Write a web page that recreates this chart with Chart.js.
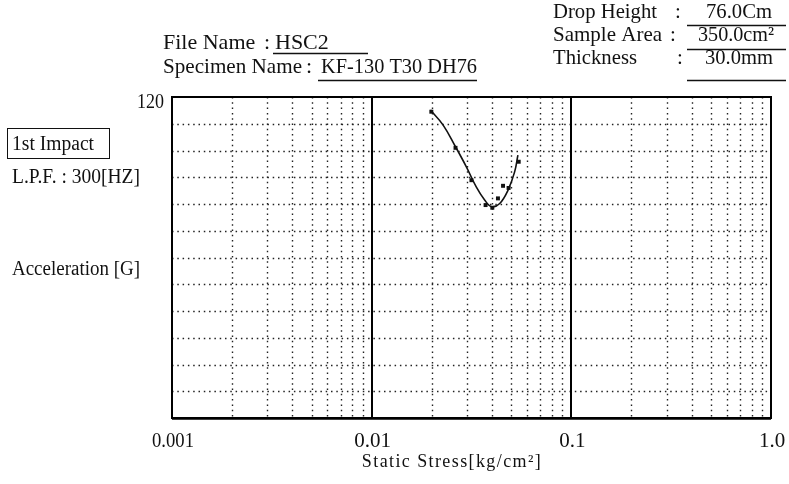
<!DOCTYPE html>
<html>
<head>
<meta charset="utf-8">
<script src="https://cdn.jsdelivr.net/npm/chart.js@4/dist/chart.umd.min.js"></script>
<style>
  body { margin: 0; background: #fff; }
  #wrap { width: 789px; height: 484px; }
</style>
</head>
<body>
<div id="wrap"><canvas id="impact" width="789" height="484"></canvas></div>
<script>
// measured points, static stress (kg/cm2) vs peak acceleration (G)
const stress = [0.0199, 0.0263, 0.0316, 0.0372, 0.0402, 0.0429, 0.0455, 0.0485, 0.0545]
const accel = [114.5, 101.0, 88.9, 79.6, 78.6, 82.1, 86.8, 86.0, 95.8]

// fitted cushion curve
const fitStress = [0.0197, 0.0228, 0.0263, 0.0298, 0.0334, 0.0368, 0.0398, 0.0438, 0.0482, 0.0520, 0.0540]
const fitAccel = [115.1, 109.5, 101.4, 93.9, 86.4, 81.5, 79.0, 80.2, 85.2, 92.0, 98.3]

// axes
const xTicks = [0.001, 0.01, 0.1, 1]
const xTickLabels = ['0.001', '0.01', '0.1', '1.0']
const yMin = 0, yMax = 120, yStep = 10

const toXY = (xs, ys) => xs.map((v, i) => ({x: v, y: ys[i]}))

const txt = (ctx, s, x, y, size, align, maxW) => {
    ctx.font = size + 'px "Liberation Serif", "DejaVu Serif", serif'
    ctx.textAlign = align || 'left'
    ctx.textBaseline = 'alphabetic'
    if (maxW) ctx.fillText(s, x, y, maxW)
    else ctx.fillText(s, x, y)
}

const uline = (ctx, x1, x2, y) => {
    ctx.beginPath()
    ctx.moveTo(x1, y)
    ctx.lineTo(x2, y)
    ctx.stroke()
}

const paper = {
    id: 'paper',
    beforeDraw(chart) {
        const ctx = chart.ctx
        ctx.save()
        ctx.fillStyle = '#fff'
        ctx.fillRect(0, 0, chart.width, chart.height)
        ctx.restore()
    },
    beforeDatasetsDraw(chart) {
        const {ctx, chartArea: a, scales: {x, y}} = chart
        ctx.save()
        ctx.strokeStyle = '#222'
        ctx.lineWidth = 1.4
        ctx.setLineDash([1.5, 3.8])
        // minor log lines 2..9 of each decade
        for (let d = 0; d < xTicks.length - 1; d++) {
            for (let m = 2; m <= 9; m++) {
                const px = Math.round(x.getPixelForValue(xTicks[d] * m)) + 0.5
                ctx.beginPath()
                ctx.moveTo(px, a.top)
                ctx.lineTo(px, a.bottom)
                ctx.stroke()
            }
        }
        for (let v = yMin + yStep; v < yMax; v += yStep) {
            const py = Math.round(y.getPixelForValue(v)) + 0.5
            ctx.beginPath()
            ctx.moveTo(a.left, py)
            ctx.lineTo(a.right, py)
            ctx.stroke()
        }
        ctx.setLineDash([])
        // decade lines
        ctx.strokeStyle = '#000'
        ctx.lineWidth = 2
        xTicks.slice(1, -1).forEach(v => {
            const px = Math.round(x.getPixelForValue(v))
            ctx.beginPath()
            ctx.moveTo(px, a.top)
            ctx.lineTo(px, a.bottom)
            ctx.stroke()
        })
        ctx.strokeRect(a.left, a.top, a.right - a.left, a.bottom - a.top)
        ctx.lineWidth = 2.5
        uline(ctx, a.left, a.right, a.bottom + 0.5)
        ctx.restore()
    },
    afterDraw(chart) {
        const {ctx, chartArea: a, scales: {x, y}} = chart
        ctx.save()
        ctx.fillStyle = '#111'
        ctx.strokeStyle = '#111'
        ctx.lineWidth = 1.3

        // header
        txt(ctx, 'File Name', 163, 49, 22, 'left', 94)
        txt(ctx, ':', 264, 49, 22)
        txt(ctx, 'HSC2', 275, 49, 22, 'left', 54)
        uline(ctx, 273, 368, 53.5)
        txt(ctx, 'Specimen Name', 163, 73, 22, 'left', 139)
        txt(ctx, ':', 306, 73, 22)
        txt(ctx, 'KF-130 T30 DH76', 321, 73, 22, 'left', 156)
        uline(ctx, 318, 477, 80.5)

        txt(ctx, 'Drop Height', 553, 18, 21, 'left', 104)
        txt(ctx, ':', 675, 18, 21)
        txt(ctx, '76.0Cm', 706, 18, 21, 'left', 66)
        uline(ctx, 687, 786, 25.5)
        txt(ctx, 'Sample Area', 553, 41, 21, 'left', 110)
        txt(ctx, ':', 670, 41, 21)
        txt(ctx, '350.0cm²', 698, 41, 21, 'left', 76)
        uline(ctx, 687, 786, 49.5)
        txt(ctx, 'Thickness', 553, 64, 21, 'left', 84)
        txt(ctx, ':', 677, 64, 21)
        txt(ctx, '30.0mm', 705, 64, 21, 'left', 68)
        uline(ctx, 687, 786, 80.5)

        // left notes
        ctx.lineWidth = 1
        ctx.strokeRect(7.5, 128.5, 102, 30)
        txt(ctx, '1st Impact', 12, 150, 20, 'left', 82)
        txt(ctx, 'L.P.F. : 300[HZ]', 12, 183, 20, 'left', 128)
        txt(ctx, 'Acceleration [G]', 12, 275, 20, 'left', 128)

        // axis labels
        txt(ctx, String(yMax), a.left - 8, y.getPixelForValue(yMax) + 11, 20, 'right', 27)
        xTicks.forEach((v, i) => {
            txt(ctx, xTickLabels[i], x.getPixelForValue(v) + 1, 447, 21, 'center', 42)
        })
        ctx.letterSpacing = '1.4px'
        txt(ctx, 'Static Stress[kg/cm²]', 452, 467, 18, 'center')
        ctx.restore()
    }
}

new Chart(document.getElementById('impact'), {
    type: 'scatter',
    data: {
        datasets: [{
            data: toXY(fitStress, fitAccel),
            showLine: true,
            tension: 0.4,
            borderColor: '#111',
            borderWidth: 1.6,
            pointRadius: 0
        }, {
            data: toXY(stress, accel),
            pointStyle: 'rect',
            pointRadius: 2.8,
            backgroundColor: '#111',
            borderColor: '#111',
            borderWidth: 0
        }]
    },
    options: {
        responsive: false,
        animation: false,
        devicePixelRatio: 1,
        layout: {padding: {left: 172, right: 18, top: 97, bottom: 66}},
        plugins: {legend: {display: false}, tooltip: {enabled: false}},
        scales: {
            x: {type: 'logarithmic', min: xTicks[0], max: xTicks[xTicks.length - 1], display: false},
            y: {type: 'linear', min: yMin, max: yMax, display: false}
        }
    },
    plugins: [paper]
})
</script>
</body>
</html>
